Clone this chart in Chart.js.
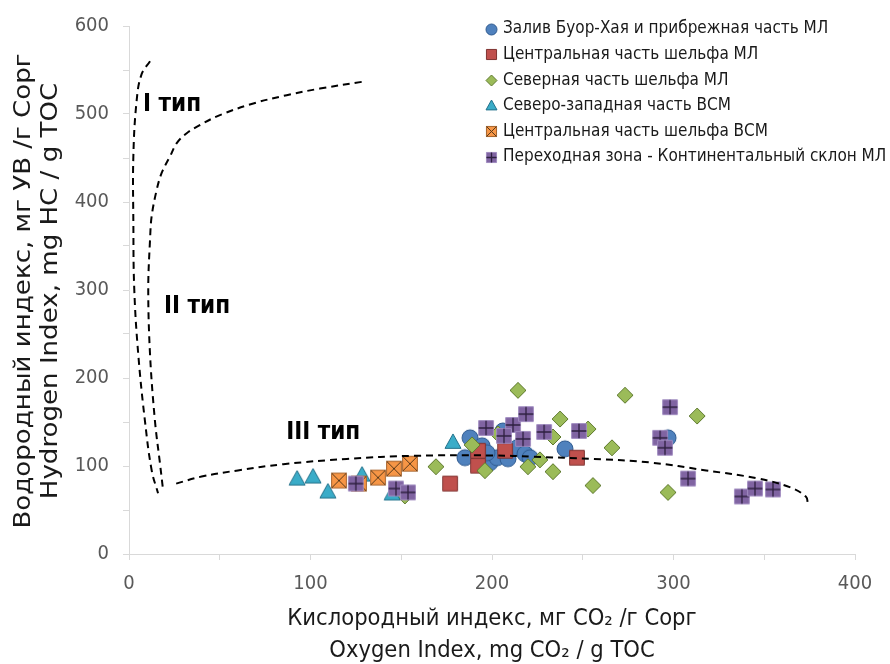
<!DOCTYPE html>
<html>
<head>
<meta charset="utf-8">
<script src="https://cdn.jsdelivr.net/npm/chart.js@4/dist/chart.umd.min.js"></script>
<style>
  html, body { margin: 0; padding: 0; background: #ffffff; }
  canvas { display: block; }
</style>
</head>
<body>
<canvas id="chart" width="890" height="664" style="width:890px;height:664px"></canvas>
<script>
// Oxygen index (x) and hydrogen index (y) of samples by area
const seriesNames = [
  'Залив Буор-Хая и прибрежная часть МЛ',
  'Центральная часть шельфа МЛ',
  'Северная часть шельфа МЛ',
  'Северо-западная часть ВСМ',
  'Центральная часть шельфа ВСМ',
  'Переходная зона - Континентальный склон МЛ'
];

const buorOI = [187.9, 185.1, 194.5, 198.9, 202.8, 206.0, 208.8, 213.8, 218.2, 221.0, 197.2, 240.2, 297.0];
const buorHI = [132.0, 109.5, 123.0, 103.8, 109.4, 139.8, 108.3, 120.7, 113.9, 109.4, 115.0, 119.5, 132.0];

const centralLaptevOI = [176.9, 192.3, 192.3, 207.2, 246.8];
const centralLaptevHI = [80.0, 100.4, 117.3, 117.3, 109.4];

const northLaptevOI = [169.1, 189.0, 196.1, 203.3, 214.3, 219.8, 226.4, 233.6, 233.6, 237.5, 252.9, 255.6, 266.1, 273.3, 297.0, 313.0, 152.0];
const northLaptevHI = [99.2, 124.0, 94.7, 136.5, 186.0, 99.2, 107.0, 93.6, 133.0, 153.4, 142.0, 77.8, 120.7, 180.4, 70.0, 156.8, 66.0];

const nwEastSiberianOI = [92.6, 101.4, 109.6, 128.4, 145.0, 178.5];
const nwEastSiberianHI = [85.7, 88.0, 71.0, 90.2, 68.8, 127.4];

const centralEastSiberianOI = [115.7, 126.7, 137.2, 146.0, 154.8];
const centralEastSiberianHI = [83.5, 80.0, 86.8, 97.0, 102.6];

const slopeOI = [125.0, 147.1, 153.7, 196.7, 211.6, 218.7, 206.6, 217.1, 228.7, 247.9, 298.1, 292.6, 295.3, 308.0, 337.7, 344.9, 354.8];
const slopeHI = [80.0, 74.4, 70.0, 143.2, 146.6, 159.0, 134.2, 130.8, 138.7, 139.8, 166.9, 132.0, 120.7, 85.7, 65.4, 74.4, 73.3];

// Kerogen type boundary curves
const typeIOI = [11.6, 6.9, 4.2, 2.4, 2.4, 2.9, 5.1, 8.8, 12.5, 16.0];
const typeIHI = [560, 545, 515, 452, 377, 301, 227, 151, 95, 69];

const typeIIOI = [128.2, 105.2, 86.9, 68.5, 50.1, 39.1, 31.8, 26.3, 22.6, 18.0, 15.3, 12.5, 11.6, 10.6, 11.6, 14.3, 17.1, 18.6];
const typeIIHI = [536.5, 528.9, 521.4, 512.0, 498.8, 487.5, 478.2, 466.9, 451.9, 433.0, 414.2, 384.2, 357.8, 301.4, 226.3, 151.1, 102.3, 75.9];

const typeIIIOI = [26, 40, 60, 85, 120, 157, 200, 223, 256, 287, 318, 346, 364, 373, 374];
const typeIIIHI = [80, 88, 95, 102, 108, 111.6, 112, 110.5, 108, 104, 95, 86, 76, 65, 57];

// Kerogen type captions and where they sit (OI, HI)
const typeLabels = ['I тип', 'II тип', 'III тип'];
const typeLabelOI = [23.7, 37.5, 107];
const typeLabelHI = [511, 281, 137.6];

// Axis tick labels and titles
const xTickLabels = [0, 100, 200, 300, 400];
const yTickLabels = [0, 100, 200, 300, 400, 500, 600];
const xTitle = ['Кислородный индекс, мг CO₂ /г Сорг', 'Oxygen Index, mg CO₂ / g TOC'];
const yTitle = ['Водородный индекс, мг УВ /г Сорг', 'Hydrogen Index, mg HC / g TOC'];

const FONT = '"DejaVu Sans Condensed", "Liberation Sans Narrow", "Open Sans", sans-serif';

const palette = [
  { fill: '#4F81BD', stroke: '#2F5A8F', kind: 'circle' },
  { fill: '#C0504D', stroke: '#7F3331', kind: 'square' },
  { fill: '#9BBB59', stroke: '#5F7A2F', kind: 'diamond' },
  { fill: '#3AACC8', stroke: '#22708A', kind: 'triangle' },
  { fill: '#F79646', stroke: '#A5632B', kind: 'squareX' },
  { fill: '#8064A2', stroke: '#A08CC0', kind: 'squarePlus' }
];

function makeMarker(kind, size, fill, stroke) {
  const pad = 2;
  const c = document.createElement('canvas');
  c.width = size + pad * 2;
  c.height = size + pad * 2;
  const g = c.getContext('2d');
  const m = c.width / 2;
  const h = size / 2;
  g.fillStyle = fill;
  g.strokeStyle = stroke;
  g.lineWidth = 1;
  g.beginPath();
  if (kind === 'circle') {
    g.arc(m, m, h, 0, Math.PI * 2);
  } else if (kind === 'diamond') {
    g.moveTo(m, m - h); g.lineTo(m + h, m); g.lineTo(m, m + h); g.lineTo(m - h, m); g.closePath();
  } else if (kind === 'triangle') {
    g.moveTo(m, m - h); g.lineTo(m + h, m + h * 0.8); g.lineTo(m - h, m + h * 0.8); g.closePath();
  } else {
    const s = h * 0.92;
    g.rect(m - s, m - s, s * 2, s * 2);
  }
  g.fill();
  g.stroke();
  if (kind === 'squareX') {
    const s = h * 0.92;
    g.beginPath();
    g.strokeStyle = '#5A3A1A';
    g.lineWidth = 1;
    g.moveTo(m - s, m - s); g.lineTo(m + s, m + s);
    g.moveTo(m + s, m - s); g.lineTo(m - s, m + s);
    g.stroke();
  }
  if (kind === 'squarePlus') {
    const s = h * 0.92;
    g.beginPath();
    g.strokeStyle = '#2E2040';
    g.lineWidth = 1.3;
    g.moveTo(m, m - s); g.lineTo(m, m + s);
    g.moveTo(m - s, m); g.lineTo(m + s, m);
    g.stroke();
  }
  return c;
}

const plotMarkers = palette.map(p => makeMarker(p.kind, 16, p.fill, p.stroke));
const legendMarkers = palette.map(p => makeMarker(p.kind, 11, p.fill, p.stroke));

function pairs(xs, ys) {
  return xs.map((x, i) => ({ x: x, y: ys[i] }));
}

const sampleSets = [
  [buorOI, buorHI],
  [centralLaptevOI, centralLaptevHI],
  [northLaptevOI, northLaptevHI],
  [nwEastSiberianOI, nwEastSiberianHI],
  [centralEastSiberianOI, centralEastSiberianHI],
  [slopeOI, slopeHI]
];

const sampleDatasets = sampleSets.map((s, i) => ({
  label: seriesNames[i],
  data: pairs(s[0], s[1]),
  pointStyle: plotMarkers[i],
  pointRadius: 8,
  pointHoverRadius: 8,
  showLine: false,
  order: 10 - i
}));

function curve(xs, ys, tension) {
  return {
    label: '',
    data: pairs(xs, ys),
    showLine: true,
    borderColor: '#000000',
    borderWidth: 2,
    borderDash: [7, 5],
    tension: tension,
    pointRadius: 0,
    pointHoverRadius: 0,
    fill: false,
    order: 0
  };
}

const curveDatasets = [
  curve(typeIOI, typeIHI, 0.4),
  curve(typeIIOI, typeIIHI, 0.35),
  curve(typeIIIOI, typeIIIHI, 0.4)
];

// Kerogen type captions drawn at their data positions
const typeLabelPlugin = {
  id: 'typeLabels',
  afterDatasetsDraw(chart) {
    const { ctx, scales: { x, y } } = chart;
    ctx.save();
    ctx.font = 'bold 24px ' + FONT;
    ctx.fillStyle = '#000000';
    ctx.textAlign = 'center';
    ctx.textBaseline = 'middle';
    typeLabels.forEach((t, i) => {
      ctx.fillText(t, x.getPixelForValue(typeLabelOI[i]), y.getPixelForValue(typeLabelHI[i]));
    });
    ctx.restore();
  }
};

// Vertical axis title: two rotated lines, glyphs slightly condensed across the line
const yTitlePlugin = {
  id: 'yTitle',
  afterDraw(chart) {
    const { ctx, chartArea } = chart;
    const cy = (chartArea.top + chartArea.bottom) / 2 + 1;
    const columns = [24, 51];
    ctx.save();
    ctx.font = '29px ' + FONT;
    ctx.fillStyle = '#1a1a1a';
    ctx.textAlign = 'center';
    ctx.textBaseline = 'middle';
    yTitle.forEach((line, i) => {
      ctx.save();
      ctx.translate(columns[i], cy);
      ctx.rotate(-Math.PI / 2);
      ctx.scale(1, 0.8);
      ctx.fillText(line, 0, 0);
      ctx.restore();
    });
    ctx.restore();
  }
};

// Legend placed inside the plot area, upper right
const legendPlugin = {
  id: 'insideLegend',
  afterDraw(chart) {
    const { ctx, chartArea } = chart;
    const markerX = chartArea.right - 364;
    const textX = markerX + 12;
    const top = chartArea.top + 3;
    const step = 25.6;
    ctx.save();
    ctx.font = '17px ' + FONT;
    ctx.fillStyle = '#1a1a1a';
    ctx.textAlign = 'left';
    ctx.textBaseline = 'middle';
    seriesNames.forEach((name, i) => {
      const cy = top + i * step;
      const img = legendMarkers[i];
      ctx.drawImage(img, Math.round(markerX - img.width / 2), Math.round(cy - img.height / 2));
      ctx.fillText(name, textX, cy);
    });
    ctx.restore();
  }
};

const axisColor = '#D9D9D9';
const tickColor = '#595959';

new Chart(document.getElementById('chart'), {
  type: 'scatter',
  data: { datasets: [...curveDatasets, ...sampleDatasets] },
  options: {
    responsive: false,
    devicePixelRatio: 1,
    animation: false,
    layout: { padding: { top: 22, right: 35, bottom: 0, left: 0 } },
    plugins: {
      legend: { display: false },
      tooltip: { enabled: false }
    },
    scales: {
      x: {
        type: 'linear',
        min: 0,
        max: 400,
        afterFit(scale) { scale.height = 110; },
        border: { display: true, color: axisColor, width: 1 },
        grid: { drawOnChartArea: false, drawTicks: true, tickLength: 6, color: axisColor },
        ticks: {
          stepSize: 50,
          padding: 12,
          maxRotation: 0,
          autoSkip: false,
          color: tickColor,
          font: { family: FONT, size: 20 },
          callback: v => (xTickLabels.includes(v) ? String(v) : '')
        },
        title: {
          display: true,
          text: xTitle,
          color: '#1a1a1a',
          font: { family: FONT, size: 23.5, lineHeight: '32px' },
          padding: { top: 0, bottom: -3 }
        }
      },
      y: {
        type: 'linear',
        min: 0,
        max: 600,
        afterFit(scale) { scale.width = 129; },
        border: { display: true, color: axisColor, width: 1 },
        grid: { drawOnChartArea: false, drawTicks: true, tickLength: 6, color: axisColor },
        ticks: {
          stepSize: 50,
          padding: 14,
          autoSkip: false,
          color: tickColor,
          font: { family: FONT, size: 20 },
          callback: v => (yTickLabels.includes(v) ? String(v) : '')
        },
        title: { display: false }
      }
    }
  },
  plugins: [typeLabelPlugin, yTitlePlugin, legendPlugin]
});
</script>
</body>
</html>
